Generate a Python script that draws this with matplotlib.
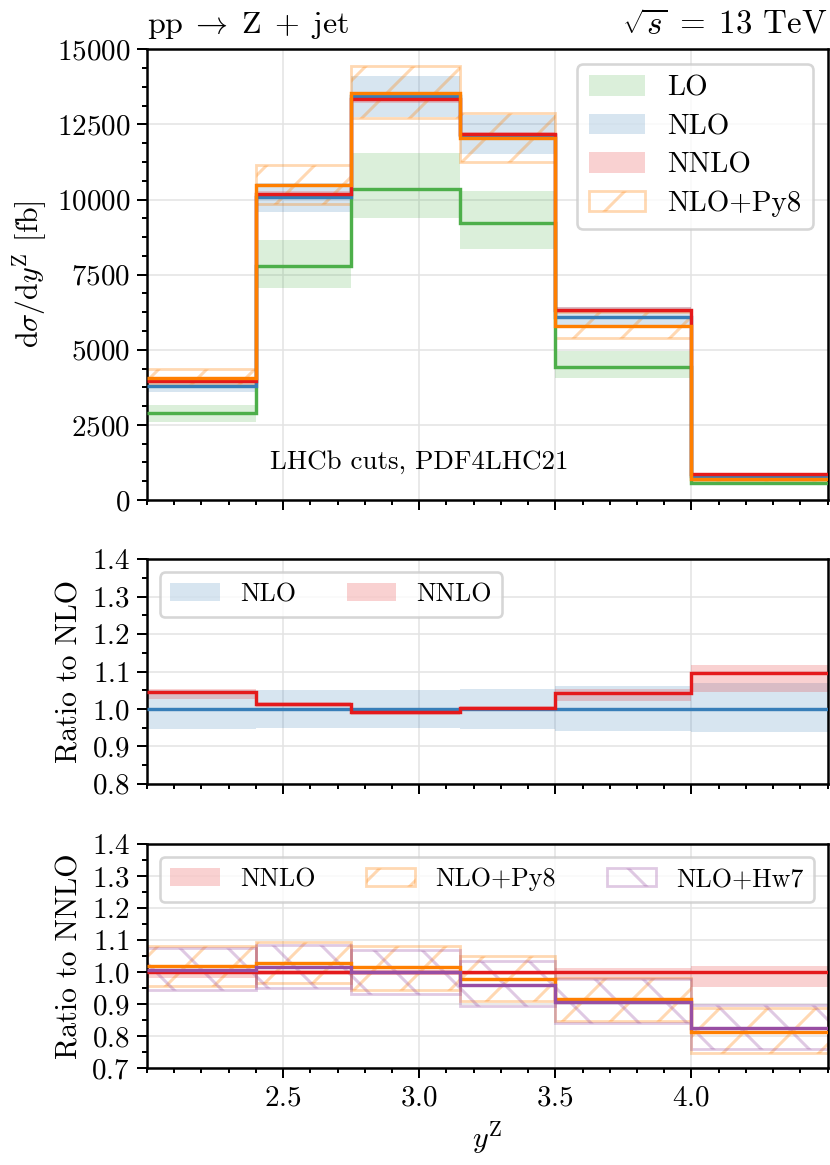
import matplotlib
matplotlib.use("Agg")
import matplotlib.pyplot as plt
import matplotlib.patches as mpatches
import numpy as np
from matplotlib.ticker import AutoMinorLocator, MultipleLocator

plt.rcParams.update({
    "font.family": "serif",
    "font.serif": ["cmr10"],
    "mathtext.fontset": "cm",
    "axes.formatter.use_mathtext": True,
    "axes.unicode_minus": False,
    "hatch.linewidth": 1.5,
})

# bin edges in y^Z
edges = [2.0, 2.4, 2.75, 3.15, 3.5, 4.0, 4.5]

# top panel: dsigma/dy [fb]
lo = [2885, 7777, 10343, 9233, 4443, 575]
lo_up = [3170, 8667, 11533, 10287, 4943, 650]
lo_dn = [2600, 7053, 9387, 8367, 4067, 510]
nlo = [3800, 10087, 13443, 12143, 6087, 790]
nlo_up = [3990, 10560, 14100, 12820, 6420, 844]
nlo_dn = [3590, 9580, 12730, 11500, 5760, 740]
nnlo = [3970, 10200, 13340, 12190, 6333, 867]
nnlo_up = [4005, 10280, 13440, 12240, 6416, 885]
nnlo_dn = [3900, 10137, 13228, 12094, 6215, 827]
py8 = [4060, 10477, 13533, 12033, 5800, 700]
py8_up = [4360, 11143, 14443, 12887, 6253, 771]
py8_dn = [3860, 9867, 12700, 11253, 5400, 649]

# middle panel: ratio to NLO
r1_nlo = [1.0, 1.0, 1.0, 1.0, 1.0, 1.0]
r1_nlo_up = [1.050, 1.050, 1.050, 1.054, 1.061, 1.068]
r1_nlo_dn = [0.945, 0.949, 0.949, 0.946, 0.942, 0.937]
r1_nnlo = [1.0455, 1.0125, 0.993, 1.003, 1.042, 1.0955]
r1_nnlo_up = [1.054, 1.019, 1.000, 1.008, 1.054, 1.117]
r1_nnlo_dn = [1.026, 1.005, 0.984, 0.996, 1.021, 1.044]

# bottom panel: ratio to NNLO
r2_nnlo = [1.0, 1.0, 1.0, 1.0, 1.0, 1.0]
r2_nnlo_up = [1.008, 1.006, 1.007, 1.005, 1.013, 1.020]
r2_nnlo_dn = [0.981, 0.993, 0.991, 0.993, 0.979, 0.954]
r2_py8 = [1.019, 1.029, 1.017, 0.979, 0.915, 0.8125]
r2_py8_up = [1.083, 1.094, 1.083, 1.050, 0.982, 0.889]
r2_py8_dn = [0.956, 0.967, 0.946, 0.909, 0.849, 0.748]
r2_hw7 = [1.008, 1.016, 1.000, 0.961, 0.906, 0.826]
r2_hw7_up = [1.076, 1.086, 1.069, 1.034, 0.980, 0.899]
r2_hw7_dn = [0.946, 0.951, 0.933, 0.894, 0.842, 0.760]

C_LO = "#4daf4a"
C_NLO = "#377eb8"
C_NNLO = "#e41a1c"
C_PY8 = "#ff7f00"
C_HW7 = "#984ea3"


def band(ax, dn, up, color):
    ax.stairs(up, edges, baseline=dn, fill=True, color=color, alpha=0.2, lw=0, zorder=1)


def hatched(ax, dn, up, color, hatch):
    ax.bar(edges[:-1], np.subtract(up, dn), width=np.diff(edges), bottom=dn,
           align="edge", fill=False, edgecolor=color, alpha=0.3, hatch=hatch,
           lw=1.4, zorder=1.5)


def line(ax, vals, color, z=3):
    ax.stairs(vals, edges, baseline=None, color=color, lw=1.7, zorder=z)


def band_handle(color):
    return mpatches.Patch(facecolor=color, alpha=0.2, lw=0)


def hatch_handle(color, hatch):
    return mpatches.Patch(facecolor="none", edgecolor=color, alpha=0.3, hatch=hatch, lw=1.4)


def style(ax):
    ax.set_xlim(2.0, 4.5)
    ax.set_xticks([2.5, 3.0, 3.5, 4.0])
    ax.xaxis.set_minor_locator(MultipleLocator(0.1))
    ax.grid(True, which="major", color="#e4e4e4", lw=0.8)
    ax.set_axisbelow(True)
    ax.tick_params(which="both", direction="out", top=False, right=False,
                   labelsize=14.5, width=1.0)
    ax.tick_params(which="major", length=5)
    ax.tick_params(which="minor", length=2.5)
    for s in ax.spines.values():
        s.set_linewidth(1.25)


fig = plt.figure(figsize=(830 / 144, 1165 / 144), dpi=144)
left, width = 0.1771, 0.8199
ax1 = fig.add_axes([left, 0.5708, width, 0.3869])
ax2 = fig.add_axes([left, 0.3273, width, 0.1926], sharex=ax1)
ax3 = fig.add_axes([left, 0.0830, width, 0.1923], sharex=ax1)

# top panel
band(ax1, lo_dn, lo_up, C_LO)
band(ax1, nlo_dn, nlo_up, C_NLO)
band(ax1, nnlo_dn, nnlo_up, C_NNLO)
hatched(ax1, py8_dn, py8_up, C_PY8, "/")
line(ax1, lo, C_LO)
line(ax1, nlo, C_NLO)
line(ax1, nnlo, C_NNLO)
line(ax1, py8, C_PY8, z=4)
style(ax1)
ax1.set_ylim(0, 15000)
ax1.set_yticks(np.arange(0, 15001, 2500))
ax1.yaxis.set_minor_locator(AutoMinorLocator(4))
ax1.tick_params(labelbottom=False)
ax1.set_ylabel(r"$\mathrm{d}\sigma/\mathrm{d}y^\mathrm{Z}$ [fb]", fontsize=15)
ax1.set_title(r"$\mathrm{pp}\;\to\;\mathrm{Z}\;+\;\mathrm{jet}$", loc="left", fontsize=16, pad=8)
ax1.set_title(r"$\sqrt{s}\;=\;13$ TeV", loc="right", fontsize=16.5, pad=8)
ax1.text(3.0, 0.084, "LHCb cuts, PDF4LHC21", transform=ax1.get_xaxis_transform(),
         ha="center", va="center", fontsize=13.5)
leg = ax1.legend([band_handle(C_LO), band_handle(C_NLO), band_handle(C_NNLO),
                  hatch_handle(C_PY8, "/")],
                 ["LO", "NLO", "NNLO", "NLO+Py8"], loc="upper right",
                 fontsize=14.5, handlelength=1.95, handletextpad=0.75,
                 labelspacing=0.42, fancybox=True)
leg.get_frame().set_linewidth(1.3)

# middle panel
band(ax2, r1_nlo_dn, r1_nlo_up, C_NLO)
band(ax2, r1_nnlo_dn, r1_nnlo_up, C_NNLO)
line(ax2, r1_nlo, C_NLO)
line(ax2, r1_nnlo, C_NNLO)
style(ax2)
ax2.set_ylim(0.8, 1.4)
ax2.set_yticks(np.arange(0.8, 1.401, 0.1))
ax2.yaxis.set_minor_locator(AutoMinorLocator(2))
ax2.tick_params(labelbottom=False)
ax2.set_ylabel("Ratio to NLO", fontsize=15)
leg = ax2.legend([band_handle(C_NLO), band_handle(C_NNLO)], ["NLO", "NNLO"],
                 loc="upper left", ncol=2, fontsize=13, handlelength=1.9,
                 handletextpad=0.77, columnspacing=1.95)
leg.get_frame().set_linewidth(1.3)

# bottom panel
band(ax3, r2_nnlo_dn, r2_nnlo_up, C_NNLO)
hatched(ax3, r2_py8_dn, r2_py8_up, C_PY8, "/")
hatched(ax3, r2_hw7_dn, r2_hw7_up, C_HW7, "\\")
line(ax3, r2_nnlo, C_NNLO)
line(ax3, r2_py8, C_PY8)
line(ax3, r2_hw7, C_HW7, z=4)
style(ax3)
ax3.set_ylim(0.7, 1.4)
ax3.set_yticks(np.arange(0.7, 1.401, 0.1))
ax3.yaxis.set_minor_locator(AutoMinorLocator(2))
ax3.set_ylabel("Ratio to NNLO", fontsize=15)
ax3.set_xlabel(r"$y^\mathrm{Z}$", fontsize=15)
leg = ax3.legend([band_handle(C_NNLO), hatch_handle(C_PY8, "/"), hatch_handle(C_HW7, "\\")],
                 ["NNLO", "NLO+Py8", "NLO+Hw7"], loc="upper left", ncol=3,
                 fontsize=13, handlelength=1.9, handletextpad=0.77, columnspacing=1.95)
leg.get_frame().set_linewidth(1.3)

fig.savefig("out.png", dpi=144)
